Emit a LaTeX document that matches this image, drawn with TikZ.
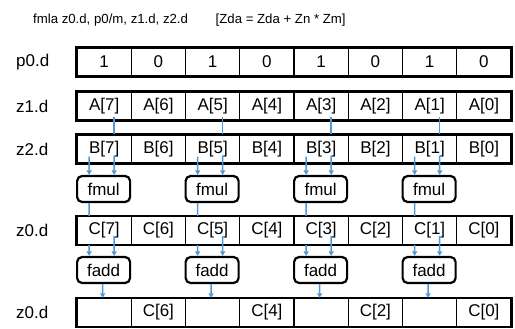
\documentclass[tikz,border=0pt]{standalone}
\usepackage{fontspec}
\setmainfont{Liberation Sans}
\usetikzlibrary{arrows.meta}
\definecolor{conncol}{RGB}{79,152,214}
\begin{document}
\begin{tikzpicture}[x=1pt,y=-1pt,
  txt/.style={font=\fontsize{17}{20}\selectfont},
  cell/.style={txt, draw, line width=1.4pt, fill=white, minimum width=54.25pt, minimum height=28pt, inner sep=0pt},
  op/.style={txt, draw, line width=2.2pt, rounded corners=5pt, fill=white, minimum width=53pt, minimum height=26pt, inner sep=0pt},
  frame/.style={draw, line width=2.4pt},
  lab/.style={txt, anchor=west, inner sep=0pt},
  link/.style={draw=conncol, line width=1.4pt},
  arr/.style={link, -{Triangle[length=4.5pt,width=5pt]}}
]
\useasboundingbox (0,0) rectangle (515,329);
\node[anchor=west, inner sep=0pt, font=\fontsize{13.2}{16}\selectfont] (title) at (33,20) {fmla z0.d, p0/m, z1.d, z2.d\hspace{2.1em}[Zda = Zda + Zn * Zm]};
% row labels
\node[lab] (lp) at (16,62) {p0.d};
\node[lab] (la) at (16,106) {z1.d};
\node[lab] (lb) at (16,149) {z2.d};
\node[lab] (lc) at (16,230.5) {z0.d};
\node[lab] (ld) at (16,312.5) {z0.d};
% rows
\foreach \k/\v [count=\i from 0] in {7/1,6/0,5/1,4/0,3/1,2/0,1/1,0/0}{
  \node[cell] (p\k) at (104.125+\i*54.25,62) {\v};
  \node[cell] (a\k) at (104.125+\i*54.25,106) {A[\k]};
  \node[cell] (b\k) at (104.125+\i*54.25,149) {B[\k]};
  \node[cell] (c\k) at (104.125+\i*54.25,230.5) {C[\k]};
}
\foreach \k/\v [count=\i from 0] in {7/{},6/{C[6]},5/{},4/{C[4]},3/{},2/{C[2]},1/{},0/{C[0]}}{
  \node[cell] (d\k) at (104.125+\i*54.25,312.5) {\v};
}
\foreach \r in {p,a,b,c,d}{
  \draw[frame] (\r7.north west) rectangle (\r0.south east);
}
% operations
\foreach \k [count=\i from 0] in {7,5,3,1}{
  \node[op] (m\k) at (103.6+\i*108.5,189) {fmul};
  \node[op] (f\k) at (103.6+\i*108.5,270) {fadd};
}
% connectors
\foreach \k in {7,5,3,1}{
  \draw[link] ([xshift=10pt,yshift=4pt]a\k.south) -- ([xshift=10pt]b\k.north);
  \draw[arr] ([xshift=10pt,yshift=8pt]b\k.south) -- ([xshift=10.6pt]m\k.north);
  \draw[arr] ([xshift=-15pt,yshift=7pt]b\k.south) -- ([xshift=-14.4pt]m\k.north);
  \draw[link] ([xshift=-14.4pt]m\k.south) -- ([xshift=-15pt]c\k.north);
  \draw[arr] ([xshift=-15pt]c\k.south) -- ([xshift=-14.4pt]f\k.north);
  \draw[arr] ([xshift=10pt,yshift=9pt]c\k.south) -- ([xshift=10.6pt]f\k.north);
  \draw[arr] ([xshift=-1pt]f\k.south) -- ([xshift=-1.5pt]d\k.north);
}
\end{tikzpicture}
\end{document}
